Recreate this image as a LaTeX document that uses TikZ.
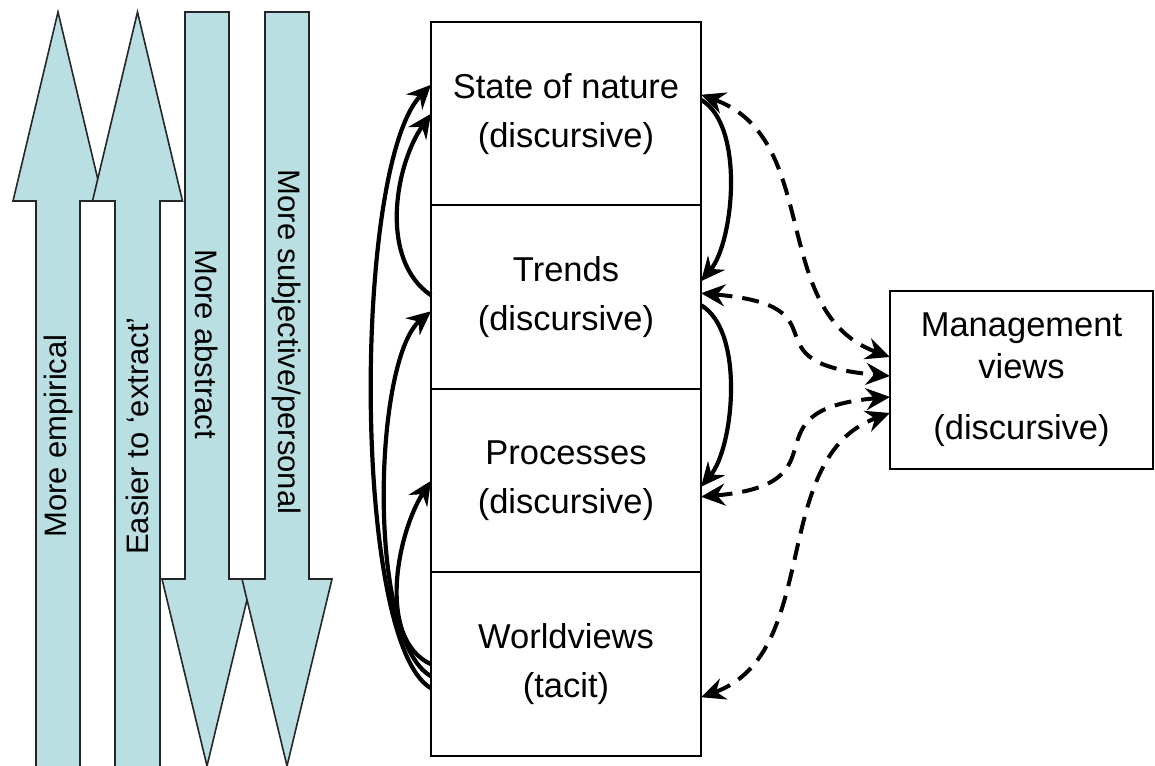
\documentclass[tikz,border=0pt]{standalone}
\usepackage{fontspec}
\setmainfont{Liberation Sans}
\usepackage{tikz}
\usetikzlibrary{arrows.meta, positioning}

\definecolor{paleblue}{RGB}{185,223,227}

\begin{document}
\begin{tikzpicture}[
  x=1pt, y=1pt,
  cell/.style={draw, line width=2pt, minimum width=270pt, minimum height=183.5pt, outer sep=0pt, inner sep=0pt, align=center, font=\fontsize{34.5}{49}\selectfont},
  mgmt/.style={draw, line width=1.5pt, minimum width=263pt, minimum height=178pt, outer sep=0pt, inner sep=0pt, align=center, font=\fontsize{34.5}{42}\selectfont},
  broad/.style={fill=paleblue, draw=black!85, line width=1.6pt, line join=miter},
  broadtext/.style={font=\fontsize{31}{36}\selectfont, inner sep=0pt},
  feed/.style={-{Stealth[length=24pt, width=22pt, inset=8pt]}, line width=4.2pt},
  link/.style={{Stealth[length=24pt, width=22pt, inset=8pt]}-{Stealth[length=24pt, width=22pt, inset=8pt]}, line width=4pt, dash pattern=on 17pt off 10pt}
]
\useasboundingbox (0,0) rectangle (1155,765);
\clip (0,0) rectangle (1155,765);

% broad arrows on the left
\draw[broad] (36,-10) -- (36,564) -- (13,564) -- (58,753) -- (103,564) -- (80,564) -- (80,-10) -- cycle;
\draw[broad] (115,-10) -- (115,564) -- (92.5,564) -- (137.5,753) -- (182.5,564) -- (160,564) -- (160,-10) -- cycle;
\draw[broad] (185,753) -- (229,753) -- (229,186) -- (252,186) -- (207,-1) -- (162,186) -- (185,186) -- cycle;
\draw[broad] (265,753) -- (309,753) -- (309,186) -- (332,186) -- (287,-1) -- (242,186) -- (265,186) -- cycle;

\node[broadtext, rotate=90] (empirical) at (58,329) {More empirical};
\node[broadtext, rotate=90] (extract) at (137.5,329) {Easier to ‘extract’};
\node[broadtext, rotate=-90] (abstract) at (207,421) {More abstract};
\node[broadtext, rotate=-90] (subjective) at (287,423) {More subjective/personal};

% stacked layers
\node[cell] (nature) at (566,651.25) {State of nature\\(discursive)};
\node[cell, below=0pt of nature] (trends) {Trends\\(discursive)};
\node[cell, below=0pt of trends] (processes) {Processes\\(discursive)};
\node[cell, below=0pt of processes] (worldviews) {Worldviews\\(tacit)};

\node[mgmt] (views) at (1021.5,385) {Management\\views\\[19pt](discursive)};

% feedback on the left
\draw[feed] ([yshift=-24pt]worldviews.west) to[out=150, in=226, out distance=91pt, in distance=113pt] ([yshift=29pt]nature.west);
\draw[feed] ([yshift=-12pt]worldviews.west) to[out=150, in=220, distance=75pt] ([yshift=-14pt]trends.west);
\draw[feed] (worldviews.west) to[out=155, in=237, distance=61pt] (processes.west);
\draw[feed] ([yshift=2pt]trends.west) to[out=146, in=235, distance=63pt] (nature.west);

% downward on the right
\draw[feed] ([yshift=14pt]nature.east) to[out=-30, in=50, distance=51pt] ([yshift=16pt]trends.east);
\draw[feed] ([yshift=-8pt]trends.east) to[out=-30, in=50, distance=51pt] ([yshift=-6pt]processes.east);

% links to management views
\draw[link] ([yshift=19pt]nature.east) to[out=-20, in=160, distance=130pt] ([yshift=23pt]views.west);
\draw[link] ([yshift=4pt]trends.east) to[out=-5, in=175, distance=150pt] ([yshift=4pt]views.west);
\draw[link] ([yshift=-16pt]processes.east) to[out=5, in=185, distance=150pt] ([yshift=-17pt]views.west);
\draw[link] ([yshift=-33pt]worldviews.east) to[out=20, in=200, distance=130pt] ([yshift=-33pt]views.west);
\end{tikzpicture}
\end{document}
